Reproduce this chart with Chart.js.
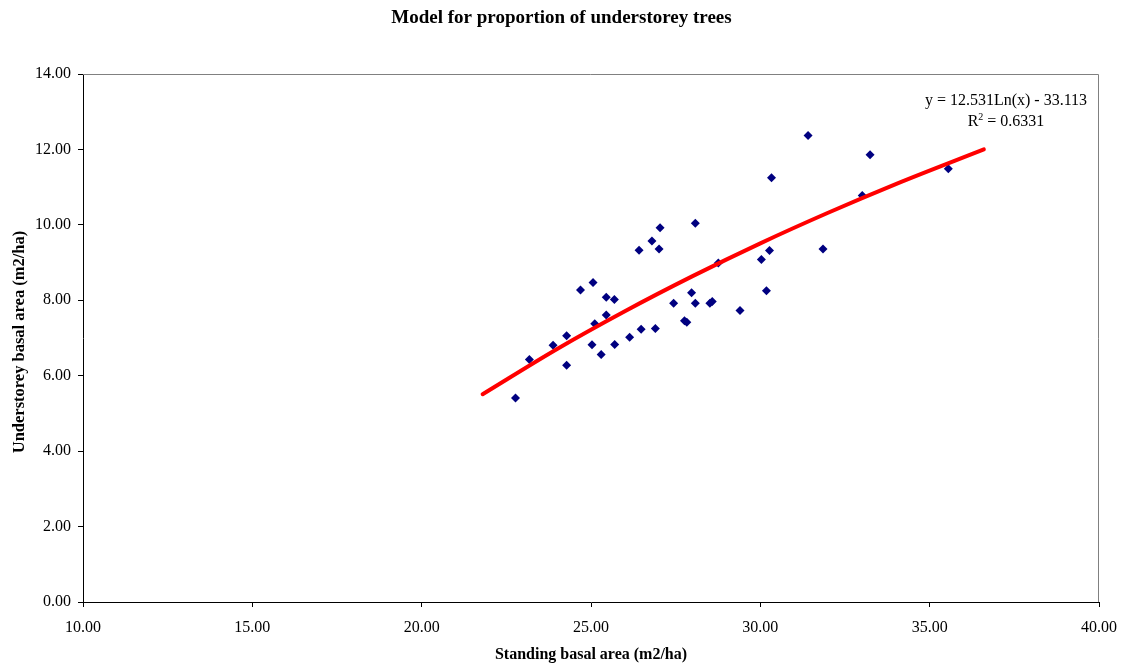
<!DOCTYPE html>
<html>
<head>
<meta charset="utf-8">
<script src="https://cdn.jsdelivr.net/npm/chart.js@4.4.0/dist/chart.umd.min.js"></script>
<style>
  html, body { margin: 0; padding: 0; background: #fff; }
  #wrap { width: 1123px; height: 666px; }
</style>
</head>
<body>
<div id="wrap"><canvas id="grafica" width="1123" height="666"></canvas></div>
<script>
// valores
const standingBA = [22.77, 23.18, 23.88, 24.28, 24.28, 24.69, 25.06, 25.03, 25.11, 25.30,
  25.45, 25.45, 25.69, 25.70, 26.14, 26.48, 26.42, 26.80, 27.04, 27.01,
  26.90, 27.44, 27.97, 28.08, 28.08, 27.76, 27.83, 28.51, 28.58, 28.76,
  29.40, 30.18, 30.03, 30.27, 30.33, 31.41, 31.85, 33.01, 33.24, 35.55];
const understoreyBA = [5.41, 6.43, 6.81, 7.06, 6.28, 8.27, 8.47, 6.82, 7.38, 6.56,
  8.08, 7.61, 8.02, 6.83, 7.02, 7.23, 9.33, 9.57, 9.92, 9.36,
  7.25, 7.92, 8.20, 7.92, 10.04, 7.46, 7.42, 7.92, 7.97, 8.99,
  7.73, 8.25, 9.08, 9.32, 11.25, 12.37, 9.36, 10.78, 11.86, 11.49];

// linea de tendencia (puntos leidos sobre la curva roja)
const trendX = [21.8, 24, 26, 28, 30, 32, 34, 36.6];
const trendY = [5.51, 6.71, 7.71, 8.64, 9.51, 10.32, 11.08, 12.00];

const xTicks = [10, 15, 20, 25, 30, 35, 40];
const yTicks = [0, 2, 4, 6, 8, 10, 12, 14];

const titulo = 'Model for proportion of understorey trees';
const tituloX = 'Standing basal area (m2/ha)';
const tituloY = 'Understorey basal area (m2/ha)';
const ecuacion = 'y = 12.531Ln(x) - 33.113';
const r2 = '0.6331';

const puntos = standingBA.map((x, i) => ({ x: x, y: understoreyBA[i] }));
const tendencia = trendX.map((x, i) => ({ x: x, y: trendY[i] }));

const textos = {
  id: 'textos',
  beforeDatasetsDraw(chart) {
    const { ctx, chartArea: a } = chart;
    ctx.save();
    ctx.strokeStyle = '#808080';
    ctx.lineWidth = 1;
    ctx.beginPath();
    ctx.moveTo(a.left, a.top + 0.5);
    ctx.lineTo(a.right - 0.5, a.top + 0.5);
    ctx.lineTo(a.right - 0.5, a.bottom);
    ctx.stroke();
    ctx.restore();
  },
  afterDraw(chart) {
    const { ctx, chartArea: a } = chart;
    ctx.save();
    ctx.fillStyle = '#000';
    ctx.textAlign = 'center';
    ctx.textBaseline = 'middle';

    ctx.font = 'bold 19px "Liberation Serif"';
    ctx.fillText(titulo, 561.5, 18);

    ctx.font = 'bold 16px "Liberation Serif"';
    ctx.fillText(tituloX, (a.left + a.right) / 2, 655);

    ctx.save();
    ctx.font = 'bold 16.5px "Liberation Serif"';
    ctx.translate(20, 342);
    ctx.rotate(-Math.PI / 2);
    ctx.fillText(tituloY, 0, 0);
    ctx.restore();

    ctx.font = '16px "Liberation Serif"';
    ctx.fillText(ecuacion, 1006, 101);
    // R^2 con superindice
    const base = 'R', resto = ' = ' + r2;
    const wBase = ctx.measureText(base).width;
    ctx.font = '10px "Liberation Serif"';
    const wSup = ctx.measureText('2').width;
    ctx.font = '16px "Liberation Serif"';
    const wResto = ctx.measureText(resto).width;
    let x0 = 1006 - (wBase + wSup + wResto) / 2;
    ctx.textAlign = 'left';
    ctx.fillText(base, x0, 122);
    ctx.font = '10px "Liberation Serif"';
    ctx.fillText('2', x0 + wBase, 117);
    ctx.font = '16px "Liberation Serif"';
    ctx.fillText(resto, x0 + wBase + wSup, 122);
    ctx.restore();
  }
};

const ctx = document.getElementById('grafica').getContext('2d');
new Chart(ctx, {
  type: 'scatter',
  data: {
    datasets: [
      {
        label: 'Understorey',
        data: puntos,
        pointStyle: 'rectRot',
        pointRadius: 4.5,
        pointBorderWidth: 0,
        backgroundColor: '#000080',
        borderColor: '#000080',
        order: 2
      },
      {
        label: 'Trend',
        type: 'line',
        data: tendencia,
        borderColor: '#ff0000',
        borderWidth: 4,
        pointRadius: 0,
        cubicInterpolationMode: 'monotone',
        borderCapStyle: 'round',
        fill: false,
        order: 1
      }
    ]
  },
  options: {
    responsive: false,
    animation: false,
    layout: { padding: { top: 74, right: 24, left: 0, bottom: 0 } },
    plugins: {
      legend: { display: false },
      title: { display: false },
      tooltip: { enabled: false }
    },
    scales: {
      x: {
        type: 'linear',
        min: 10,
        max: 40,
        afterFit: s => { s.height = 64; s.paddingLeft = 0; s.paddingRight = 0; },
        afterBuildTicks: s => { s.ticks = xTicks.map(v => ({ value: v })); },
        grid: { drawOnChartArea: false, drawTicks: true, tickLength: 5, tickColor: '#000' },
        border: { display: true, color: '#000', width: 1 },
        ticks: {
          padding: 11,
          color: '#000',
          font: { family: 'Liberation Serif', size: 16 },
          maxRotation: 0,
          callback: v => Number(v).toFixed(2)
        }
      },
      y: {
        type: 'linear',
        min: 0,
        max: 14,
        afterFit: s => { s.width = 83; s.paddingTop = 0; s.paddingBottom = 0; },
        afterBuildTicks: s => { s.ticks = yTicks.map(v => ({ value: v })); },
        grid: { drawOnChartArea: false, drawTicks: true, tickLength: 5, tickColor: '#000' },
        border: { display: true, color: '#000', width: 1 },
        ticks: {
          padding: 7,
          color: '#000',
          font: { family: 'Liberation Serif', size: 16 },
          callback: v => Number(v).toFixed(2)
        }
      }
    }
  },
  plugins: [textos]
});
</script>
</body>
</html>
